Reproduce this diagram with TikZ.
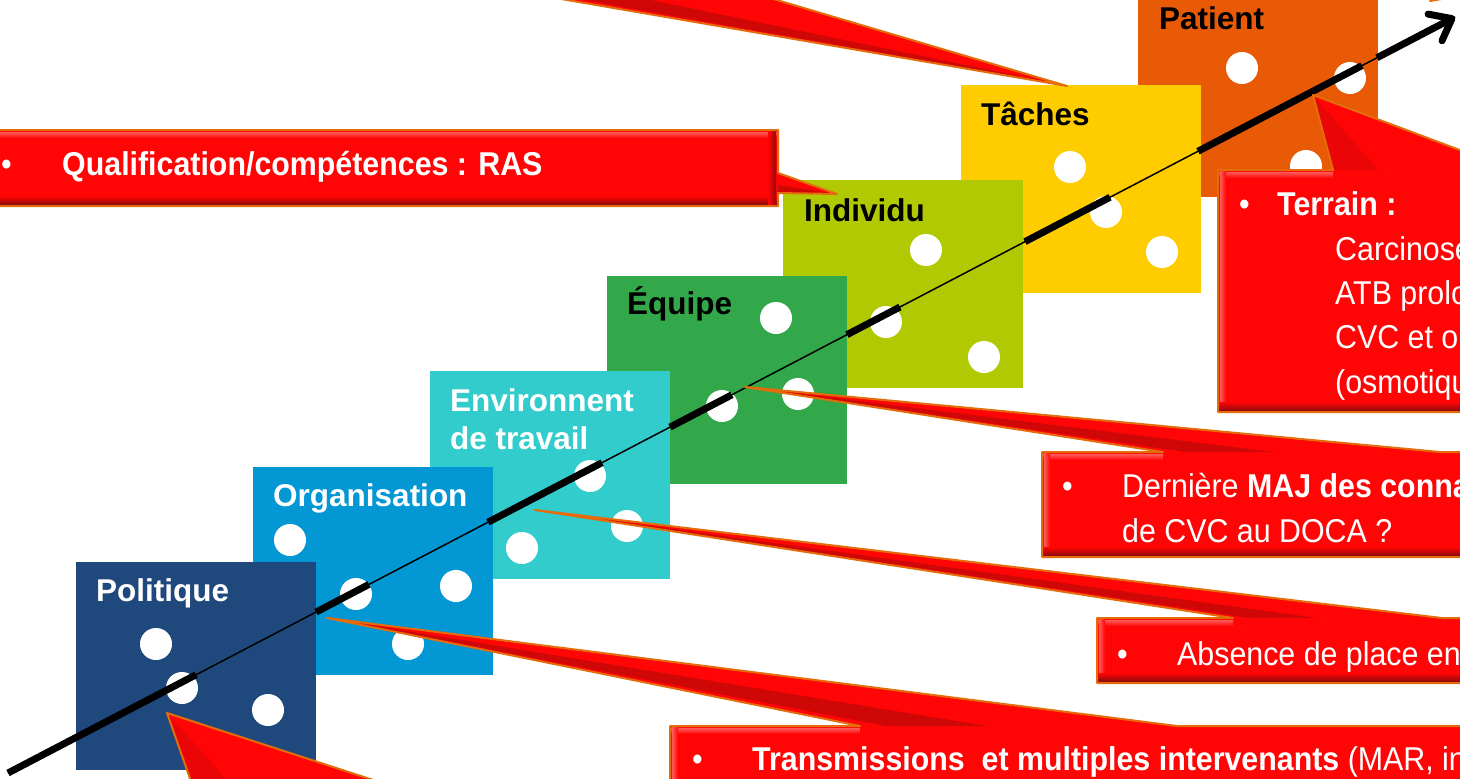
\documentclass[tikz,border=0pt]{standalone}
\usepackage{fontspec}
\setmainfont{Liberation Sans}
\newfontfamily\calloutfont[FakeStretch=0.92]{Liberation Sans}
\usetikzlibrary{calc,arrows.meta}

\definecolor{cPolitique}{HTML}{1F497D}
\definecolor{cOrganisation}{HTML}{0398D4}
\definecolor{cEnvironnement}{HTML}{33CCCC}
\definecolor{cEquipe}{HTML}{33A84B}
\definecolor{cIndividu}{HTML}{B1C903}
\definecolor{cTaches}{HTML}{FFCC00}
\definecolor{cPatient}{HTML}{E85A05}
\definecolor{calloutred}{HTML}{FF0505}
\definecolor{calloutedge}{HTML}{E46C0A}
\definecolor{bevellight}{HTML}{FF5A5A}
\definecolor{beveldark}{HTML}{960A0A}

% bevel bands of the red callout boxes
\newcommand\bandtop[3]{\shade[top color=bevellight,bottom color=calloutred] (#1,#3+2) rectangle (#2,#3+8);}
\newcommand\bandbottom[3]{\shade[top color=calloutred,bottom color=beveldark] (#1,#3-10) rectangle (#2,#3-2);}
\newcommand\bandleft[3]{\shade[left color=bevellight,right color=calloutred] (#1+2,#2) rectangle (#1+8,#3);}
\newcommand\bandright[3]{\shade[left color=calloutred,right color=beveldark] (#1-10,#2) rectangle (#1-2,#3);}

\begin{document}
\begin{tikzpicture}[x=1pt,y=-1pt,
  diebox/.style={anchor=north west,minimum width=240pt,minimum height=208pt,inner sep=0pt,outer sep=0pt,draw=none},
  pip/.style={circle,fill=white,minimum size=32pt,inner sep=0pt},
  dielabel/.style={anchor=base west,inner sep=0pt,font=\fontsize{31.5}{38}\selectfont\bfseries},
  ctext/.style={anchor=base west,inner sep=0pt,text=white,font=\calloutfont\fontsize{33}{44}\selectfont},
  redfill/.style={fill=calloutred},
  rededge/.style={draw=calloutedge,line width=2pt,line join=round},
  ridge/.style={fill=beveldark,fill opacity=0.45},
  thinline/.style={line width=1.5pt},
  thickline/.style={line width=7pt},
]
\useasboundingbox (0,0) rectangle (1460,779);
\fill[white] (0,0) rectangle (1460,779);
\clip (0,0) rectangle (1460,779);

% ---- the seven dice, back to front ----
\node[diebox,fill=cPatient] (patient) at (1138,-11) {};
\node[pip] (pa1) at (1242,68) {};
\node[pip] (pa2) at (1350,78) {};
\node[pip] (pa3) at (1306,166) {};
\node[dielabel] (patientlbl) at (1159,29) {Patient};

\node[diebox,fill=cTaches] (taches) at (961,85) {};
\node[pip] (ta1) at (1070,167) {};
\node[pip] (ta2) at (1106,212) {};
\node[pip] (ta3) at (1162,252) {};
\node[dielabel] (tacheslbl) at (981,125) {Tâches};

\node[diebox,fill=cIndividu] (individu) at (783,180) {};
\node[pip] (in1) at (926,250) {};
\node[pip] (in2) at (886,322) {};
\node[pip] (in3) at (984,357) {};
\node[dielabel] (individulbl) at (804,221) {Individu};

\node[diebox,fill=cEquipe] (equipe) at (607,276) {};
\node[pip] (eq1) at (776,318) {};
\node[pip] (eq2) at (722,406) {};
\node[pip] (eq3) at (798,394) {};
\node[dielabel] (equipelbl) at (627,314) {Équipe};

\node[diebox,fill=cEnvironnement] (environnement) at (430,371) {};
\node[pip] (en1) at (590,476) {};
\node[pip] (en2) at (627,526) {};
\node[pip] (en3) at (522,548) {};
\node[dielabel,text=white] (envlbla) at (450,411) {Environnent};
\node[dielabel,text=white] (envlblb) at (450,449) {de travail};

\node[diebox,fill=cOrganisation] (organisation) at (253,467) {};
\node[pip] (or1) at (290,540) {};
\node[pip] (or2) at (356,594) {};
\node[pip] (or3) at (456,586) {};
\node[pip] (or4) at (408,644) {};
\node[dielabel,text=white] (organisationlbl) at (273,506) {Organisation};

\node[diebox,fill=cPolitique] (politique) at (76,562) {};
\node[pip] (po1) at (156,644) {};
\node[pip] (po2) at (182,688) {};
\node[pip] (po3) at (268,710) {};
\node[dielabel,text=white] (politiquelbl) at (96,601) {Politique};

% ---- the rising arrow, thick where it crosses each die ----
\coordinate (tail) at (8,773);
\coordinate (head) at (1455,17);
\draw[thinline] (tail) -- (head);
\foreach \a/\b in {0/0.130, 0.2129/0.2495, 0.3317/0.4105, 0.4575/0.5003,
                   0.5798/0.6164, 0.7028/0.7616, 0.8224/0.9357}
  \draw[thickline] ($(tail)!\a!(head)$) -- ($(tail)!\b!(head)$);
\draw[thickline,-{Straight Barb[length=19pt,width=30pt,round]}] ($(tail)!0.9461!(head)$) -- (head);

% ---- callout tips and base points ----
\coordinate (ttip) at (1067,86);  \coordinate (tl) at (509,-10);  \coordinate (tr) at (743,-10);
\coordinate (qtip) at (837,194);
\coordinate (rtip) at (1313,95);  \coordinate (rl) at (1333,170); \coordinate (rr) at (1513,170);
\coordinate (dtip) at (745,387);  \coordinate (dl) at (1163,452); \coordinate (dr) at (1440,452);
\coordinate (atip) at (535,510);  \coordinate (al) at (1233,618); \coordinate (ar) at (1442,618);
\coordinate (mtip) at (327,618);  \coordinate (ml) at (860,726);  \coordinate (mr) at (1177,726);
\coordinate (btip) at (167,713);  \coordinate (bl) at (194,790);  \coordinate (br) at (404,790);
\coordinate (stip) at (1430,1);

% top pointer
\path[save path=\toppath] (tl) -- (ttip) -- (tr) -- cycle;
\fill[redfill,use path=\toppath];
\fill[ridge] (ttip) -- ($(tl)!0.08!(tr)$) -- ($(tl)!0.4!(tr)$) -- cycle;
\draw[rededge,use path=\toppath];

% small pointer at the top right corner
\path[save path=\cornerpath] (stip) -- (1470,-6) -- (1470,-20) -- cycle;
\fill[redfill,use path=\cornerpath];
\draw[rededge,use path=\cornerpath];

% Qualification / competences
\path[save path=\qpath] (-10,130) -- (778,130) -- (778,173) -- (qtip) -- (778,193) -- (778,206) -- (-10,206) -- cycle;
\fill[redfill,use path=\qpath];
\bandtop{-10}{778}{130}
\bandbottom{-10}{778}{206}
\bandright{778}{130}{206}
\fill[ridge] (qtip) -- (778,185) -- (778,193) -- cycle;
\draw[rededge,use path=\qpath];
\node[ctext] (qbullet) at (1,175) {•};
\node[ctext] (qtext) at (62,175) {\bfseries Qualification/compétences : RAS};

% Terrain
\path[save path=\rpath] (1218,170) -- (rl) -- (rtip) -- (rr) -- (1600,170) -- (1600,412) -- (1218,412) -- cycle;
\fill[redfill,use path=\rpath];
\bandtop{1218}{1333}{170}
\bandleft{1218}{170}{412}
\bandbottom{1218}{1600}{412}
\fill[ridge,fill opacity=0.2] (rtip) -- (rl) -- ($(rl)!0.25!(rr)$) -- cycle;
\draw[rededge,use path=\rpath];
\node[ctext] (rbullet) at (1239,215) {•};
\node[ctext] (rtitle) at (1277,215) {\bfseries Terrain :};
\node[ctext] (rline1) at (1335,260) {Carcinose péritonéale};
\node[ctext] (rline2) at (1335,304) {ATB prolongée};
\node[ctext] (rline3) at (1335,348) {CVC et obstruction};
\node[ctext] (rline4) at (1335,393) {(osmotique)};

% Derniere MAJ
\path[save path=\dpath] (1042,452) -- (dl) -- (dtip) -- (dr) -- (1600,452) -- (1600,557) -- (1042,557) -- cycle;
\fill[redfill,use path=\dpath];
\bandtop{1042}{1163}{452}
\bandleft{1042}{452}{557}
\bandbottom{1042}{1600}{557}
\fill[ridge] (dtip) -- ($(dl)!0.08!(dr)$) -- ($(dl)!0.4!(dr)$) -- cycle;
\draw[rededge,use path=\dpath];
\node[ctext] (dbullet) at (1062,497) {•};
\node[ctext] (dline1) at (1122,497) {Dernière \textbf{MAJ des connaissances}};
\node[ctext] (dline2) at (1122,542) {de CVC au DOCA ?};

% Absence de place
\path[save path=\apath] (1097,618) -- (al) -- (atip) -- (ar) -- (1600,618) -- (1600,683) -- (1097,683) -- cycle;
\fill[redfill,use path=\apath];
\bandtop{1097}{1233}{618}
\bandleft{1097}{618}{683}
\bandbottom{1097}{1600}{683}
\fill[ridge] (atip) -- ($(al)!0.08!(ar)$) -- ($(al)!0.4!(ar)$) -- cycle;
\draw[rededge,use path=\apath];
\node[ctext] (abullet) at (1117,665) {•};
\node[ctext] (aline) at (1177,665) {Absence de place en};

% Transmissions
\path[save path=\mpath] (670,726) -- (ml) -- (mtip) -- (mr) -- (1600,726) -- (1600,800) -- (670,800) -- cycle;
\fill[redfill,use path=\mpath];
\bandtop{670}{860}{726}
\bandleft{670}{726}{800}
\fill[ridge] (mtip) -- ($(ml)!0.08!(mr)$) -- ($(ml)!0.4!(mr)$) -- cycle;
\draw[rededge,use path=\mpath];
\node[ctext] (mbullet) at (692,770) {•};
\node[ctext] (mline) at (752,770) {\textbf{Transmissions\ \ et multiples intervenants} (MAR, infirmiers)};

% bottom-left pointer
\path[save path=\bpath] (btip) -- (bl) -- (br) -- cycle;
\fill[redfill,use path=\bpath];
\fill[ridge,fill opacity=0.2] (btip) -- (bl) -- ($(bl)!0.2!(br)$) -- cycle;
\draw[rededge,use path=\bpath];
\end{tikzpicture}
\end{document}
